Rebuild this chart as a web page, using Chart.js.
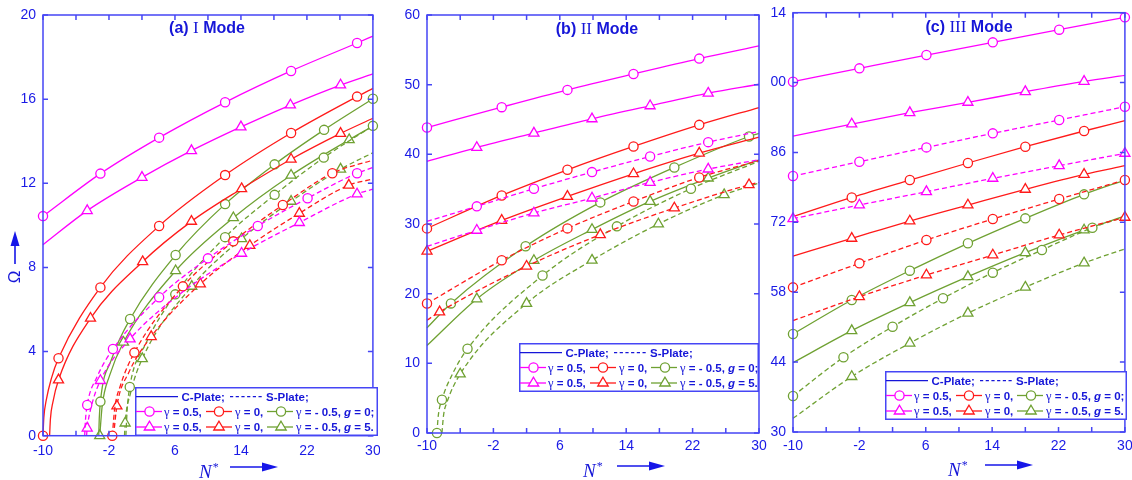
<!DOCTYPE html>
<html>
<head>
<meta charset="utf-8">
<script src="https://cdn.jsdelivr.net/npm/chart.js@4.4.0/dist/chart.umd.min.js"></script>
<style>
  body { margin: 0; background: #fff; width: 1132px; height: 480px; position: relative; overflow: hidden;
         font-family: 'Liberation Sans', Arial, sans-serif; }
  .pane { position: absolute; top: 0; height: 480px; overflow: hidden; }
  canvas { display: block; }
  .title { position: absolute; color: #1616d8; font-weight: bold; font-size: 16px; white-space: nowrap;
           transform: translate(-50%, -50%); }
  .rn { font-family: 'Liberation Serif', serif; font-weight: normal; font-size: 17px; }
  .lg { position: absolute; background: #fff; }
  .lg svg { position: absolute; left: 0; top: 0; }
  .lg span { position: absolute; font-size: 11.5px; font-weight: bold; color: #1616d8; white-space: nowrap; line-height: 14px; }
  .lg .gm { font-family: 'Liberation Serif', serif; font-weight: normal; font-size: 12.5px; }
  .nl { position: absolute; color: #1616d8; font-family: 'Liberation Serif', serif; font-style: italic; font-size: 19px;
        line-height: 20px; white-space: nowrap; }
  .nl sup { font-size: 12px; font-style: normal; vertical-align: 7px; margin-left: 1px; }
  .om { position: absolute; color: #1616d8; font-size: 17px; transform: translate(-50%, -50%) rotate(-90deg); }
  svg.deco { position: absolute; left: 0; top: 0; pointer-events: none; }
</style>
</head>
<body>
<div class="pane" style="left:0;width:380px"><canvas id="ca" width="380" height="480"></canvas></div>
<div class="pane" style="left:380px;width:390px"><canvas id="cb" width="390" height="480"></canvas></div>
<div class="pane" style="left:750px;width:382px"><canvas id="cc" width="382" height="480"></canvas></div>

<div class="title" style="left:207px;top:28px">(a) <span class="rn">I</span> Mode</div>
<div class="title" style="left:597px;top:29px">(b) <span class="rn">II</span> Mode</div>
<div class="title" style="left:969px;top:27px">(c) <span class="rn">III</span> Mode</div>

<span class="nl" style="left:199px;top:457px">N<sup>*</sup></span>
<span class="nl" style="left:583px;top:456px">N<sup>*</sup></span>
<span class="nl" style="left:948px;top:455px">N<sup>*</sup></span>
<span class="om" style="left:15px;top:277px">Ω</span>

<svg class="deco" width="1132" height="480">
  <g fill="#1616e8" stroke="#1616e8" stroke-width="1.6">
    <line x1="230" y1="467" x2="264" y2="467"/><polygon points="262,462.5 278,467 262,471.5" stroke="none"/>
    <line x1="617" y1="466" x2="651" y2="466"/><polygon points="649,461.5 665,466 649,470.5" stroke="none"/>
    <line x1="985" y1="465" x2="1019" y2="465"/><polygon points="1017,460.5 1033,465 1017,469.5" stroke="none"/>
    <line x1="15" y1="264" x2="15" y2="244"/><polygon points="10.5,246 15,231 19.5,246" stroke="none"/>
  </g>
</svg>

<div id="lga" class="lg"></div>
<div id="lgb" class="lg"></div>
<div id="lgc" class="lg"></div>

<script>
// ---- axes ----
const xTickVals = [-10, -2, 6, 14, 22, 30];
const xTickLabels = ['-10', '-2', '6', '14', '22', '30'];
const xMinorTicks = [-10, -6, -2, 2, 6, 10, 14, 18, 22, 26, 30];

const aYTicks = [0, 4, 8, 12, 16, 20];
const aYLabels = ['0', '4', '8', '12', '16', '20'];
const bYTicks = [0, 10, 20, 30, 40, 50, 60];
const bYLabels = ['0', '10', '20', '30', '40', '50', '60'];
const cYTicks = [30, 44, 58, 72, 86, 100, 114];
const cYLabels = ['30', '44', '58', '72', '86', '00', '14'];

// ---- data: [N*, Omega, marker shown] ----
// (a) I Mode, C-Plate
const a_C_p05_g0 = [[-10,10.44,1],[-3.04,12.46,1],[4.08,14.17,1],[12.08,15.85,1],[20.08,17.34,1],[28.08,18.67,1],[30,19.0,0]];
const a_C_p05_g5 = [[-10,9.08,0],[-4.64,10.7,1],[2.0,12.28,1],[8.0,13.55,1],[14.0,14.68,1],[20.0,15.72,1],[26.08,16.67,1],[30,17.2,0]];
const a_C_0_g0 = [[-10,0,1],[-9.9,0.85,0],[-9.6,1.7,0],[-9.0,2.7,0],[-8.12,3.68,1],[-3.04,7.05,1],[4.08,9.97,1],[12.08,12.39,1],[20.08,14.39,1],[28.08,16.12,1],[30,16.51,0]];
const a_C_0_g5 = [[-9.2,0,0],[-9.1,0.8,0],[-8.8,1.6,0],[-8.12,2.65,1],[-4.24,5.58,1],[2.08,8.27,1],[8.0,10.19,1],[14.08,11.74,1],[20.08,13.14,1],[26.08,14.37,1],[30,15.09,0]];
const a_C_m05_g0 = [[-3.24,0,0],[-3.18,0.8,0],[-3.04,1.62,1],[-1.72,3.6,0],[0.56,5.55,1],[6.08,8.59,1],[12.08,11.01,1],[18.08,12.9,1],[24.08,14.54,1],[30,16.02,1]];
const a_C_m05_g5 = [[-3.12,0,1],[-2.82,1.43,0],[-1.92,2.87,0],[-0.24,4.44,1],[6.08,7.84,1],[13.08,10.36,1],[20.08,12.38,1],[27.12,14.07,1],[30,14.72,0]];
// (a) I Mode, S-Plate
const a_S_p05_g0 = [[-4.95,0,0],[-4.85,0.75,0],[-4.64,1.46,1],[-3.44,2.8,0],[-1.52,4.12,1],[4.08,6.58,1],[10.0,8.43,1],[16.04,9.97,1],[22.08,11.29,1],[28.08,12.48,1],[30,12.75,0]];
const a_S_p05_g5 = [[-4.72,0,0],[-4.64,0.36,1],[-4.2,1.3,0],[-3.04,2.62,1],[0.56,4.6,1],[7.0,6.85,0],[14.08,8.67,1],[21.08,10.13,1],[28.08,11.49,1],[30,11.72,0]];
const a_S_0_g0 = [[-1.6,0,1],[-1.3,1.3,0],[-0.6,2.4,0],[1.08,3.95,1],[6.96,7.1,1],[13.08,9.24,1],[19.08,10.97,1],[25.08,12.48,1],[30,13.1,0]];
const a_S_0_g5 = [[-1.45,0,0],[-1.04,1.41,1],[0.4,3.0,0],[3.12,4.71,1],[9.08,7.21,1],[15.08,9.04,1],[21.08,10.57,1],[27.08,11.91,1],[30,12.2,0]];
const a_S_m05_g0 = [[0.05,0,0],[0.2,1.2,0],[0.52,2.32,1],[2.5,4.4,0],[6.04,6.72,1],[12.08,9.44,1],[18.08,11.45,1],[24.04,13.22,1],[30,14.73,1]];
const a_S_m05_g5 = [[-0.12,0,0],[-0.04,0.6,1],[0.6,2.0,0],[2.04,3.66,1],[8.04,7.1,1],[14.08,9.36,1],[20.08,11.14,1],[26.08,12.67,1],[30,13.45,0]];

// (b) II Mode, C-Plate
const b_C_p05_g0 = [[-10,43.85,1],[-1,46.77,1],[6.92,49.25,1],[14.88,51.54,1],[22.8,53.74,1],[30,55.56,0]];
const b_C_p05_g5 = [[-10,38.98,0],[-4,40.98,1],[2.88,43.04,1],[9.88,45.09,1],[16.88,46.96,1],[23.88,48.77,1],[30,50.06,0]];
const b_C_0_g0 = [[-10,29.37,1],[-1,34.1,1],[6.92,37.78,1],[14.88,41.13,1],[22.8,44.23,1],[30,46.72,0]];
const b_C_0_g5 = [[-10,26.08,1],[-1,30.52,1],[6.92,33.96,1],[14.88,37.21,1],[22.8,40.17,1],[30,42.47,0]];
const b_C_m05_g0 = [[-10,15.09,0],[-7.12,18.6,1],[1.88,26.8,1],[10.88,33.1,1],[19.8,38.12,1],[28.8,42.56,1],[30,43.0,0]];
const b_C_m05_g5 = [[-10,12.56,0],[-4,19.25,1],[2.88,24.76,1],[9.88,29.2,1],[16.88,33.24,1],[23.88,36.59,1],[30,39.2,0]];
// (b) II Mode, S-Plate
const b_S_p05_g0 = [[-10,30.38,0],[-4,32.53,1],[2.88,35.06,1],[9.88,37.45,1],[16.88,39.69,1],[23.88,41.75,1],[30,43.28,0]];
const b_S_p05_g5 = [[-10,26.79,0],[-4,29.09,1],[2.88,31.57,1],[9.88,33.72,1],[16.88,35.97,1],[23.88,37.88,1],[30,39.22,0]];
const b_S_0_g0 = [[-10,18.58,1],[-1,24.79,1],[6.92,29.37,1],[14.88,33.24,1],[22.8,36.68,1],[30,39.1,0]];
const b_S_0_g5 = [[-10,16.19,0],[-8.48,17.38,1],[2.0,23.93,1],[10.88,28.47,1],[19.8,32.29,1],[28.8,35.63,1],[30,35.97,0]];
const b_S_m05_g0 = [[-8.8,0,1],[-8.65,2.4,0],[-8.2,4.78,1],[-7,8.3,0],[-5.12,12.09,1],[3.92,22.6,1],[12.88,29.66,1],[21.8,35.06,1],[30,39.0,0]];
const b_S_m05_g5 = [[-8.2,0,0],[-8.0,2.6,0],[-7.6,4.4,0],[-6,8.46,1],[2.0,18.6,1],[9.88,24.8,1],[17.88,30.0,1],[25.8,34.2,1],[30,35.87,0]];

// (c) III Mode, C-Plate
const c_C_p05_g0 = [[-10,100.18,1],[-2,102.85,1],[6.08,105.52,1],[14.08,108.06,1],[22.08,110.6,1],[30,113.07,1]];
const c_C_p05_g5 = [[-10,89.29,0],[-2.92,91.7,1],[4.08,93.97,1],[11.08,96.04,1],[18.0,98.17,1],[25.08,100.24,1],[30,101.45,0]];
const c_C_0_g0 = [[-10,73.13,0],[-2.92,77.0,1],[4.08,80.48,1],[11.08,83.89,1],[18.0,87.16,1],[25.08,90.3,1],[30,92.37,0]];
const c_C_0_g5 = [[-10,65.25,0],[-2.92,68.79,1],[4.08,72.27,1],[11.08,75.47,1],[18.0,78.61,1],[25.08,81.61,1],[30,83.35,0]];
const c_C_m05_g0 = [[-10,49.63,1],[-2.92,56.44,1],[4.08,62.32,1],[11.08,67.8,1],[18.0,72.8,1],[25.08,77.61,1],[30,80.48,0]];
const c_C_m05_g5 = [[-10,43.89,0],[-2.92,50.3,1],[4.08,55.91,1],[11.08,61.12,1],[18.0,65.93,1],[25.08,70.46,1],[30,73.3,0]];
// (c) III Mode, S-Plate
const c_S_p05_g0 = [[-10,81.28,1],[-2,84.15,1],[6.08,87.02,1],[14.08,89.83,1],[22.08,92.5,1],[30,95.17,1]];
const c_S_p05_g5 = [[-10,72.73,1],[-2,75.47,1],[6.08,78.14,1],[14.08,80.81,1],[22.08,83.35,1],[30,85.82,1]];
const c_S_0_g0 = [[-10,58.98,1],[-2,63.79,1],[6.08,68.46,1],[14.08,72.67,1],[22.08,76.67,1],[30,80.48,1]];
const c_S_0_g5 = [[-10,52.3,0],[-2,57.1,1],[6.08,61.44,1],[14.08,65.45,1],[22.08,69.46,1],[30,73.0,1]];
const c_S_m05_g0 = [[-10,37.21,1],[-3.92,44.96,1],[2.0,51.1,1],[8.08,56.78,1],[14.08,61.92,1],[20.0,66.46,1],[26.08,70.93,1],[30,73.13,0]];
const c_S_m05_g5 = [[-10,32.74,0],[-2.92,41.1,1],[4.08,47.8,1],[11.08,53.8,1],[18.0,59.0,1],[25.08,63.86,1],[30,66.67,0]];

// ---- styles ----
const MAG = '#ff00ff', RED = '#ff1a1a', GRN = '#6fa132';
const TXT = '#1a1ae6', AXIS = '#4646f5';
const FONT = "'Liberation Sans', Arial, sans-serif";

function series(pts, color, dashed, marker) {
  return {
    data: pts.map(p => ({ x: p[0], y: p[1], m: p[2] })),
    borderColor: color,
    borderWidth: 1.3,
    borderDash: dashed ? [5, 3] : [],
    cubicInterpolationMode: 'monotone',
    fill: false,
    clip: false,
    pointStyle: marker,
    pointRadius: c => (c.raw && c.raw.m ? (marker === 'triangle' ? 5.8 : 4.6) : 0),
    pointHoverRadius: 0,
    pointBorderColor: color,
    pointBackgroundColor: '#ffffff',
    pointBorderWidth: 1.3
  };
}

function curveSet(s) {
  return [
    series(s[6], MAG, true, 'circle'), series(s[7], MAG, true, 'triangle'),
    series(s[8], RED, true, 'circle'), series(s[9], RED, true, 'triangle'),
    series(s[10], GRN, true, 'circle'), series(s[11], GRN, true, 'triangle'),
    series(s[0], MAG, false, 'circle'), series(s[1], MAG, false, 'triangle'),
    series(s[2], RED, false, 'circle'), series(s[3], RED, false, 'triangle'),
    series(s[4], GRN, false, 'circle'), series(s[5], GRN, false, 'triangle')
  ];
}

// box and inward tick marks on all four sides
const framePlugin = {
  id: 'frame',
  afterDatasetsDraw(chart, args, o) {
    const { ctx, chartArea: a, scales } = chart;
    ctx.save();
    ctx.strokeStyle = AXIS;
    ctx.lineWidth = 1.5;
    ctx.beginPath();
    xMinorTicks.forEach(v => {
      const p = scales.x.getPixelForValue(v);
      ctx.moveTo(p, a.bottom); ctx.lineTo(p, a.bottom - 5);
      ctx.moveTo(p, a.top); ctx.lineTo(p, a.top + 5);
    });
    o.yTicks.forEach(v => {
      const p = scales.y.getPixelForValue(v);
      ctx.moveTo(a.left, p); ctx.lineTo(a.left + 5, p);
      ctx.moveTo(a.right, p); ctx.lineTo(a.right - 5, p);
    });
    ctx.stroke();
    ctx.strokeRect(a.left, a.top, a.right - a.left, a.bottom - a.top);
    ctx.restore();
  }
};

function makePanel(id, sets, yTicks, yLabels, p) {
  new Chart(document.getElementById(id), {
    type: 'line',
    data: { datasets: curveSet(sets) },
    options: {
      responsive: false,
      animation: false,
      devicePixelRatio: 1,
      layout: { padding: { left: 0, right: p.right, top: p.top, bottom: 0 } },
      plugins: { legend: { display: false }, tooltip: { enabled: false }, frame: { yTicks: yTicks } },
      scales: {
        x: {
          type: 'linear', min: -10, max: 30,
          afterBuildTicks: s => { s.ticks = xTickVals.map(v => ({ value: v })); },
          afterFit: s => { s.height = p.xh; s.paddingLeft = 0; s.paddingRight = 0; },
          ticks: { color: TXT, font: { family: FONT, size: 14 }, padding: p.xpad, maxRotation: 0,
                   callback: (v, i) => xTickLabels[i] },
          grid: { display: false, drawTicks: false },
          border: { display: false }
        },
        y: {
          type: 'linear', min: yTicks[0], max: yTicks[yTicks.length - 1],
          afterBuildTicks: s => { s.ticks = yTicks.map(v => ({ value: v })); },
          afterFit: s => { s.width = p.yw; s.paddingTop = 0; s.paddingBottom = 0; },
          ticks: { color: TXT, font: { family: FONT, size: 14 }, padding: 7,
                   callback: (v, i) => yLabels[i] },
          grid: { display: false, drawTicks: false },
          border: { display: false }
        }
      }
    },
    plugins: [framePlugin]
  });
}

makePanel('ca', [a_C_p05_g0, a_C_p05_g5, a_C_0_g0, a_C_0_g5, a_C_m05_g0, a_C_m05_g5,
                 a_S_p05_g0, a_S_p05_g5, a_S_0_g0, a_S_0_g5, a_S_m05_g0, a_S_m05_g5],
          aYTicks, aYLabels, { yw: 43, right: 3, top: 15, xh: 44.3, xpad: 7.5 });
makePanel('cb', [b_C_p05_g0, b_C_p05_g5, b_C_0_g0, b_C_0_g5, b_C_m05_g0, b_C_m05_g5,
                 b_S_p05_g0, b_S_p05_g5, b_S_0_g0, b_S_0_g5, b_S_m05_g0, b_S_m05_g5],
          bYTicks, bYLabels, { yw: 47, right: 11, top: 15, xh: 47, xpad: 5 });
makePanel('cc', [c_C_p05_g0, c_C_p05_g5, c_C_0_g0, c_C_0_g5, c_C_m05_g0, c_C_m05_g5,
                 c_S_p05_g0, c_S_p05_g5, c_S_0_g0, c_S_0_g5, c_S_m05_g0, c_S_m05_g5],
          cYTicks, cYLabels, { yw: 43, right: 5.3, top: 12.7, xh: 48, xpad: 6 });

// ---- legends ----
function tri(cx, cy, color) {
  return `<polygon points="${cx},${cy - 5.8} ${cx - 5.2},${cy + 3} ${cx + 5.2},${cy + 3}" fill="#fff" stroke="${color}" stroke-width="1.3"/>`;
}
function circ(cx, cy, color) {
  return `<circle cx="${cx}" cy="${cy}" r="4.6" fill="#fff" stroke="${color}" stroke-width="1.3"/>`;
}
function buildLegend(id, left, top, w, h) {
  const el = document.getElementById(id);
  el.style.left = left + 'px'; el.style.top = top + 'px';
  el.style.width = w + 'px'; el.style.height = h + 'px';
  const r1 = 9.7, r2 = 24.5, r3 = 40;
  let svg = `<svg width="${w}" height="${h}">`;
  svg += `<rect x="0.75" y="0.75" width="${w - 1.5}" height="${h - 1.5}" fill="#fff" stroke="${AXIS}" stroke-width="1.5"/>`;
  svg += `<line x1="1" y1="${r1}" x2="43" y2="${r1}" stroke="#1616d8" stroke-width="1.3"/>`;
  svg += `<line x1="95" y1="${r1}" x2="129" y2="${r1}" stroke="#1616d8" stroke-width="1.3" stroke-dasharray="3.2,2.5"/>`;
  [[r2, circ], [r3, tri]].forEach(([ry, mk]) => {
    svg += `<line x1="1" y1="${ry}" x2="27" y2="${ry}" stroke="${MAG}" stroke-width="1.3"/>` + mk(14.5, ry, MAG);
    svg += `<line x1="71" y1="${ry}" x2="97" y2="${ry}" stroke="${RED}" stroke-width="1.3"/>` + mk(84, ry, RED);
    svg += `<line x1="132" y1="${ry}" x2="158" y2="${ry}" stroke="${GRN}" stroke-width="1.3"/>` + mk(146, ry, GRN);
  });
  svg += '</svg>';
  const t = (x, y, s) => `<span style="left:${x}px;top:${y - 7}px">${s}</span>`;
  const g = '<span class="gm" style="position:static">γ</span>';
  el.innerHTML = svg +
    t(46.5, r1, 'C-Plate;') + t(131, r1, 'S-Plate;') +
    t(29, r2, g + ' = 0.5,') + t(100, r2, g + ' = 0,') + t(161, r2, g + ' = - 0.5, <i>g</i> = 0;') +
    t(29, r3, g + ' = 0.5,') + t(100, r3, g + ' = 0,') + t(161, r3, g + ' = - 0.5, <i>g</i> = 5.');
}
buildLegend('lga', 135, 387, 243, 49);
buildLegend('lgb', 519, 343, 240, 49);
buildLegend('lgc', 885, 371, 242, 49);
</script>
</body>
</html>
